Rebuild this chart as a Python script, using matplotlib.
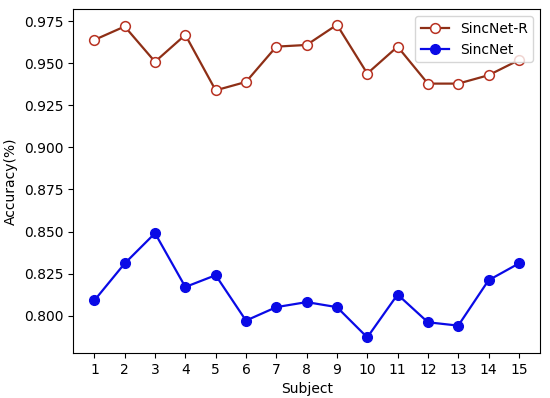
import matplotlib
matplotlib.use('Agg')
import matplotlib.pyplot as plt

# accuracy per subject
subjects = list(range(1, 16))
sincnet_r = [0.964, 0.972, 0.951, 0.967, 0.934, 0.939, 0.960, 0.961,
             0.973, 0.944, 0.960, 0.938, 0.938, 0.943, 0.952]
sincnet = [0.809, 0.831, 0.849, 0.817, 0.824, 0.797, 0.805, 0.808,
           0.805, 0.787, 0.8125, 0.796, 0.794, 0.821, 0.831]

fig = plt.figure(figsize=(5.5, 3.98), dpi=100)
ax = fig.add_axes([0.133, 0.113, 0.849, 0.864])

ax.plot(subjects, sincnet_r, color='#8e2f16', linewidth=1.6, marker='o',
        markersize=7, markerfacecolor='white', markeredgecolor='#b83222',
        markeredgewidth=1.1, label='SincNet-R')
ax.plot(subjects, sincnet, color='#0a0ae6', linewidth=1.6, marker='o',
        markersize=7, markerfacecolor='#0a0ae6', markeredgecolor='#0a0ae6',
        label='SincNet')

ax.set_xticks(subjects)
ax.set_xlabel('Subject', fontsize=10)
ax.set_ylabel('Accuracy(%)', fontsize=10)
ax.tick_params(labelsize=10)
ax.legend(loc='upper right', fontsize=10)

plt.savefig('out.png', dpi=100)
